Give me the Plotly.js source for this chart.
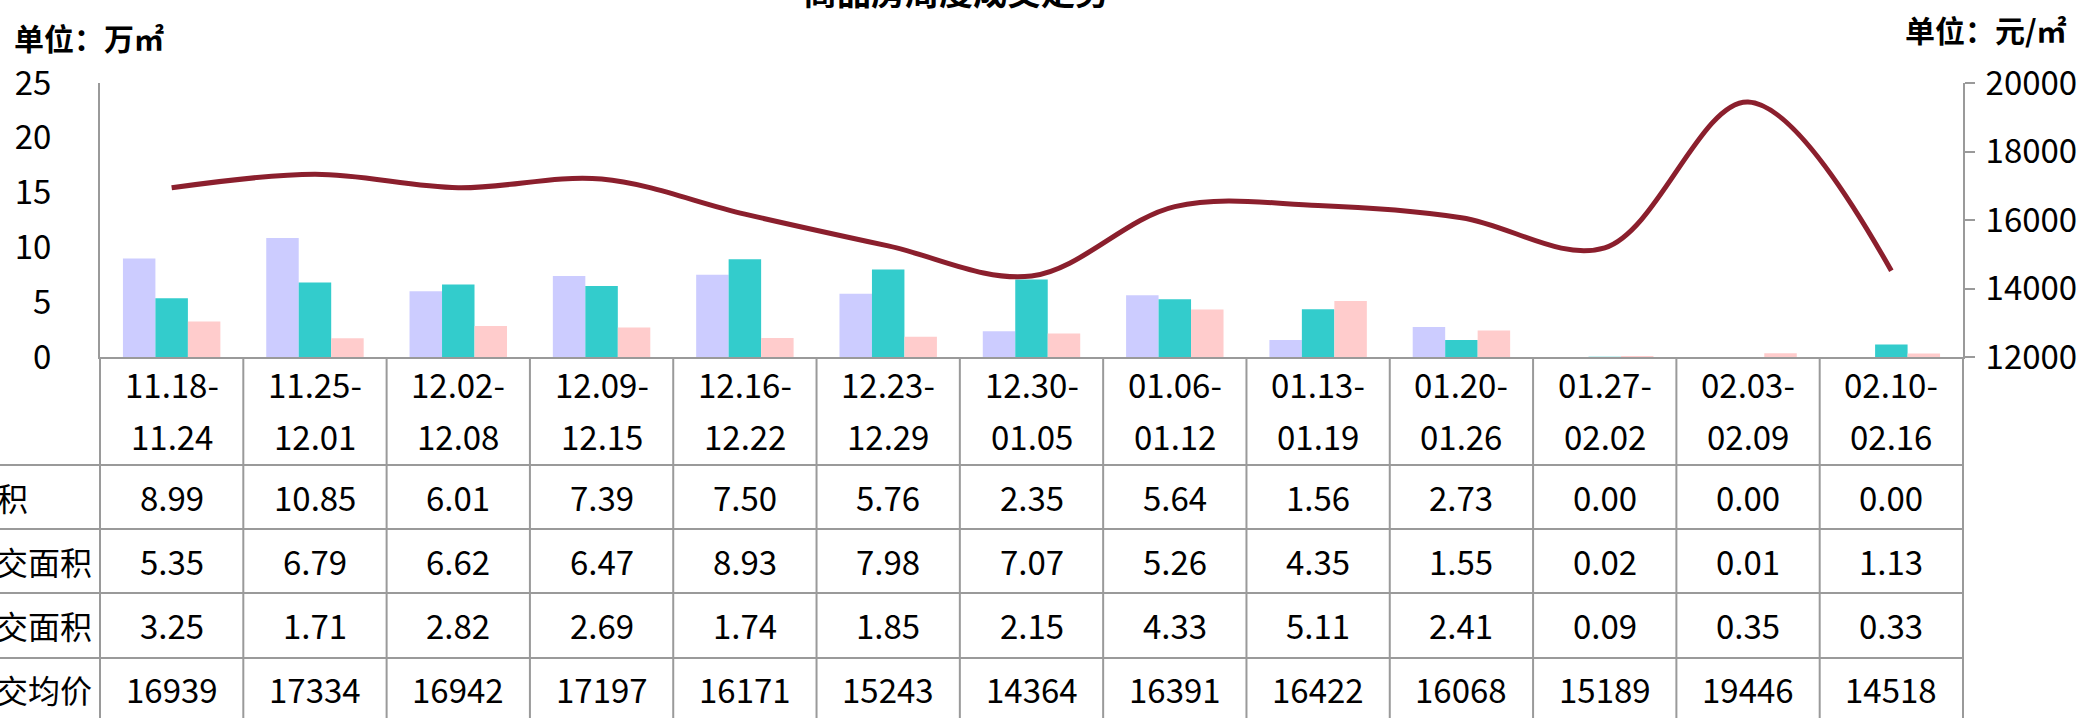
<!DOCTYPE html>
<html>
<head>
<meta charset="utf-8">
<script src="https://cdn.plot.ly/plotly-3.0.1.min.js"></script>
<style>
  html, body { margin: 0; padding: 0; background: #fff; }
  #chart { width: 2096px; height: 718px; }
</style>
</head>
<body>
<div id="chart"></div>
<script>
// weekly data
const weeks = ['11.18-11.24', '11.25-12.01', '12.02-12.08', '12.09-12.15', '12.16-12.22', '12.23-12.29',
  '12.30-01.05', '01.06-01.12', '01.13-01.19', '01.20-01.26', '01.27-02.02', '02.03-02.09', '02.10-02.16'];
const supplyArea = [8.99, 10.85, 6.01, 7.39, 7.50, 5.76, 2.35, 5.64, 1.56, 2.73, 0.00, 0.00, 0.00];
const newDealArea = [5.35, 6.79, 6.62, 6.47, 8.93, 7.98, 7.07, 5.26, 4.35, 1.55, 0.02, 0.01, 1.13];
const otherDealArea = [3.25, 1.71, 2.82, 2.69, 1.74, 1.85, 2.15, 4.33, 5.11, 2.41, 0.09, 0.35, 0.33];
const avgPrice = [16939, 17334, 16942, 17197, 16171, 15243, 14364, 16391, 16422, 16068, 15189, 19446, 14518];
const rowNames = ['供应面积', '商品住宅成交面积', '二手住宅成交面积', '商品住宅成交均价'];

const FONT = '"Noto Sans CJK SC", "Noto Sans", sans-serif';
const GRID = '#9a9a9a';

// plot box in page pixels
const L = 100, R = 1963, T = 83, B = 357;
const pw = R - L, ph = B - T;
const px = x => (x - L) / pw;
const py = y => (B - y) / ph;

const barColors = ['#ccccff', '#33cccc', '#ffcccc'];
const barSeries = [supplyArea, newDealArea, otherDealArea];

const data = barSeries.map((vals, k) => ({
  type: 'bar',
  x: weeks,
  y: vals,
  name: rowNames[k],
  marker: { color: barColors[k] },
  hoverinfo: 'skip'
}));

data.push({
  type: 'scatter',
  mode: 'lines',
  x: weeks,
  y: avgPrice,
  yaxis: 'y2',
  name: rowNames[3],
  line: { color: '#8b1f2d', width: 5, shape: 'spline', smoothing: 1 },
  hoverinfo: 'skip'
});

// data table below the plot
const shapes = [];
const annotations = [];
const n = weeks.length;
for (let i = 0; i <= n; i++) {
  shapes.push({ type: 'line', xref: 'paper', yref: 'paper', x0: i / n, x1: i / n, y0: 0, y1: py(730),
    line: { color: GRID, width: 2 } });
}
[465, 529, 593, 658].forEach(y => {
  shapes.push({ type: 'line', xref: 'paper', yref: 'paper', x0: px(-10), x1: 1, y0: py(y), y1: py(y),
    line: { color: GRID, width: 2 } });
});

weeks.forEach((w, i) => {
  const parts = w.split('-');
  annotations.push({ xref: 'x', yref: 'paper', x: w, y: py(384), text: parts[0] + '-', showarrow: false,
    xanchor: 'center', yanchor: 'middle', font: { size: 33 } });
  annotations.push({ xref: 'x', yref: 'paper', x: w, y: py(436), text: parts[1], showarrow: false,
    xanchor: 'center', yanchor: 'middle', font: { size: 33 } });
});

const rowVals = [supplyArea, newDealArea, otherDealArea, avgPrice];
const rowY = [497, 561, 625, 689];
rowVals.forEach((vals, r) => {
  vals.forEach((v, i) => {
    annotations.push({ xref: 'x', yref: 'paper', x: weeks[i], y: py(rowY[r]),
      text: r === 3 ? String(v) : v.toFixed(2), showarrow: false,
      xanchor: 'center', yanchor: 'middle', font: { size: 33 } });
  });
  annotations.push({ xref: 'paper', yref: 'paper', x: px(-36), y: py(rowY[r]), text: rowNames[r],
    showarrow: false, xanchor: 'center', yanchor: 'middle', font: { size: 32 } });
});

// title (mostly above the visible page) and unit labels
annotations.push({ xref: 'paper', yref: 'paper', x: px(956), y: py(-9), text: '<b>商品房周度成交走势</b>',
  showarrow: false, xanchor: 'center', yanchor: 'middle', font: { size: 34 } });
annotations.push({ xref: 'paper', yref: 'paper', x: px(12), y: py(37), text: '<b>单位：万㎡</b>',
  showarrow: false, xanchor: 'left', yanchor: 'middle', font: { size: 30 } });
annotations.push({ xref: 'paper', yref: 'paper', x: px(1903), y: py(29), text: '<b>单位：元/㎡</b>',
  showarrow: false, xanchor: 'left', yanchor: 'middle', font: { size: 30 } });

const layout = {
  width: 2096,
  height: 718,
  margin: { l: L, r: 2096 - R, t: T, b: 718 - B, pad: 0 },
  paper_bgcolor: '#ffffff',
  plot_bgcolor: 'rgba(0,0,0,0)',
  font: { family: FONT, color: '#000000', size: 33 },
  showlegend: false,
  barmode: 'group',
  bargap: 0.32,
  bargroupgap: 0,
  xaxis: {
    type: 'category',
    showticklabels: false,
    ticks: '',
    showgrid: false,
    showline: true,
    linecolor: GRID,
    linewidth: 2,
    zeroline: false
  },
  yaxis: {
    range: [0, 25],
    dtick: 5,
    showgrid: false,
    zeroline: false,
    showline: true,
    linecolor: GRID,
    linewidth: 2,
    ticks: '',
    ticklabelstandoff: 40,
    tickfont: { size: 33 }
  },
  yaxis2: {
    overlaying: 'y',
    side: 'right',
    range: [12000, 20000],
    dtick: 2000,
    tickformat: 'd',
    showgrid: false,
    zeroline: false,
    showline: true,
    linecolor: GRID,
    linewidth: 2,
    ticks: 'outside',
    ticklen: 10,
    tickwidth: 2,
    tickcolor: GRID,
    ticklabelstandoff: 4,
    tickfont: { size: 33 }
  },
  shapes: shapes,
  annotations: annotations
};

Plotly.newPlot('chart', data, layout, { staticPlot: true });
</script>
</body>
</html>
